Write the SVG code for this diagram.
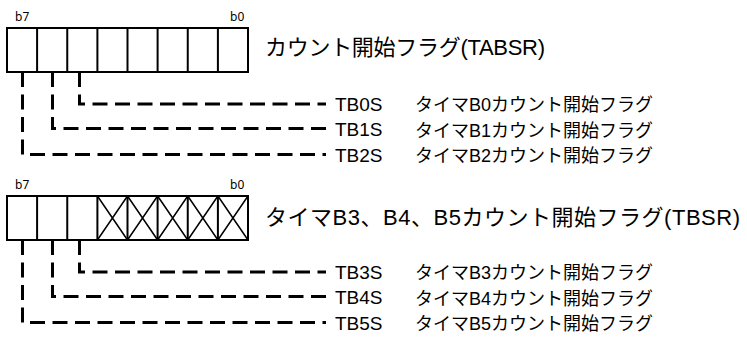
<svg xmlns="http://www.w3.org/2000/svg" width="747" height="338" viewBox="0 0 747 338">
<style>
  .reg { fill: #fff; stroke: #000; stroke-width: 2; }
  .div { stroke: #000; stroke-width: 2; fill: none; }
  .x { stroke: #000; stroke-width: 1.5; fill: none; }
  .bit { font-family: "Noto Sans", "DejaVu Sans", sans-serif; font-size: 12px; fill: #000; }
  .title { font-family: "Liberation Sans", "Noto Sans CJK JP", sans-serif; font-size: 22px; fill: #000; }
  .sym { font-family: "Liberation Sans", "Noto Sans CJK JP", sans-serif; font-size: 19px; fill: #000; }
  .desc { font-family: "Liberation Sans", "Noto Sans CJK JP", sans-serif; font-size: 18px; fill: #000; }
  .dash { stroke: #000; stroke-width: 3; fill: none; stroke-dasharray: 15 7.5; }
</style>

<g id="register-tabsr">
  <rect class="reg" x="7" y="28" width="241" height="44"/>
  <path class="div" d="M37.1 28V72M67.25 28V72M97.4 28V72M127.5 28V72M157.6 28V72M187.75 28V72M217.9 28V72"/>
  <text class="bit" x="15" y="21">b7</text>
  <text class="bit" x="230" y="21">b0</text>
</g>
<g id="title-tabsr">
  <text class="title" x="265" y="55" textLength="280" lengthAdjust="spacing">カウント開始フラグ(TABSR)</text>
</g>

<g id="register-tbsr">
  <rect class="reg" x="7" y="196" width="241" height="44"/>
  <path class="div" d="M37.1 196V240M67.25 196V240M97.4 196V240M127.5 196V240M157.6 196V240M187.75 196V240M217.9 196V240"/>
  <path class="x" d="M97.4 196L127.5 240M127.5 196L97.4 240M127.5 196L157.6 240M157.6 196L127.5 240M157.6 196L187.75 240M187.75 196L157.6 240M187.75 196L217.9 240M217.9 196L187.75 240M217.9 196L248 240M248 196L217.9 240"/>
  <text class="bit" x="15" y="189">b7</text>
  <text class="bit" x="230" y="189">b0</text>
</g>
<g id="title-tbsr">
  <text class="title" x="265" y="225" textLength="475" lengthAdjust="spacing">タイマB3、B4、B5カウント開始フラグ(TBSR)</text>
</g>

<g id="connectors">
  <polyline class="dash" points="79.5,72 79.5,104 326,104"/>
  <polyline class="dash" points="52.5,72 52.5,128.5 326,128.5"/>
  <polyline class="dash" points="22.5,72 22.5,154.5 326,154.5"/>
  <polyline class="dash" points="79.5,240 79.5,272 326,272"/>
  <polyline class="dash" points="52.5,240 52.5,296.5 326,296.5"/>
  <polyline class="dash" points="22.5,240 22.5,322.5 326,322.5"/>
</g>

<g id="flag-tb0s"><text class="sym" x="335" y="110.5">TB0S</text><text class="desc" x="415" y="111">タイマB0カウント開始フラグ</text></g>
<g id="flag-tb1s"><text class="sym" x="335" y="136">TB1S</text><text class="desc" x="415" y="136.5">タイマB1カウント開始フラグ</text></g>
<g id="flag-tb2s"><text class="sym" x="335" y="161.5">TB2S</text><text class="desc" x="415" y="162">タイマB2カウント開始フラグ</text></g>
<g id="flag-tb3s"><text class="sym" x="335" y="278.5">TB3S</text><text class="desc" x="415" y="279">タイマB3カウント開始フラグ</text></g>
<g id="flag-tb4s"><text class="sym" x="335" y="304">TB4S</text><text class="desc" x="415" y="304.5">タイマB4カウント開始フラグ</text></g>
<g id="flag-tb5s"><text class="sym" x="335" y="329.5">TB5S</text><text class="desc" x="415" y="330">タイマB5カウント開始フラグ</text></g>
</svg>
